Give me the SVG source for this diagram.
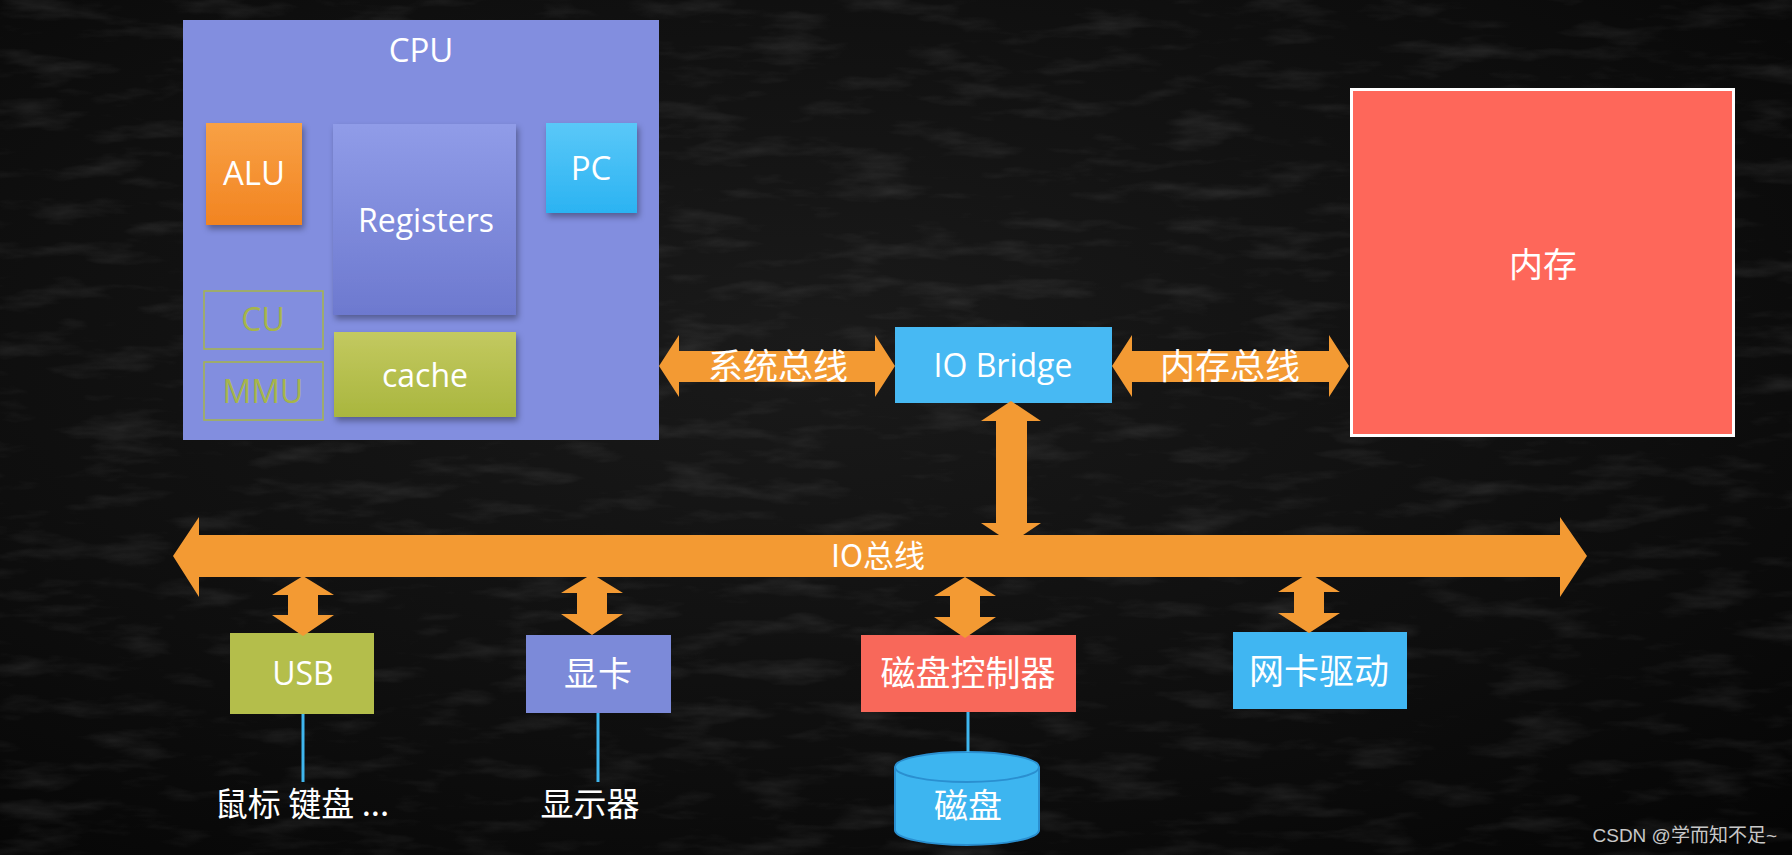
<svg xmlns="http://www.w3.org/2000/svg" width="1792" height="855" viewBox="0 0 1792 855">
  <defs>
    <style>
      .lat { font-family: "Open Sans", "Noto Sans", "Liberation Sans", sans-serif; fill: #ffffff; text-anchor: middle; }
      .cjk { font-family: "Noto Sans CJK SC", "Noto Sans", sans-serif; fill: #ffffff; text-anchor: middle; }
      .bus { fill: #f39a33; }
      .wire { stroke: #3fb6ee; stroke-width: 3; fill: none; }
      .ghost { fill: none; stroke: #a6b54a; stroke-width: 1.5; }
      .ghostt { font-family: "Open Sans", "Noto Sans", sans-serif; fill: #a6b54a; text-anchor: middle; font-size: 32px; }
    </style>
    <linearGradient id="gAlu" x1="0" y1="0" x2="0" y2="1">
      <stop offset="0" stop-color="#f8a145"/>
      <stop offset="1" stop-color="#f28421"/>
    </linearGradient>
    <linearGradient id="gReg" x1="0" y1="0" x2="0" y2="1">
      <stop offset="0" stop-color="#909ce8"/>
      <stop offset="1" stop-color="#6d79cf"/>
    </linearGradient>
    <linearGradient id="gPc" x1="0" y1="0" x2="0" y2="1">
      <stop offset="0" stop-color="#5ac8f8"/>
      <stop offset="1" stop-color="#2bb3f2"/>
    </linearGradient>
    <linearGradient id="gCache" x1="0" y1="0" x2="0" y2="1">
      <stop offset="0" stop-color="#c3c960"/>
      <stop offset="1" stop-color="#a9b63e"/>
    </linearGradient>
    <radialGradient id="gBg" cx="0.45" cy="0.4" r="0.8">
      <stop offset="0" stop-color="#1a1a1a"/>
      <stop offset="0.6" stop-color="#0e0e0e"/>
      <stop offset="1" stop-color="#050505"/>
    </radialGradient>
    <filter id="shadow" x="-20%" y="-20%" width="150%" height="150%">
      <feDropShadow dx="2" dy="4" stdDeviation="3" flood-color="#000" flood-opacity="0.35"/>
    </filter>
    <filter id="chalk" x="0" y="0" width="100%" height="100%">
      <feTurbulence type="fractalNoise" baseFrequency="0.012 0.05" numOctaves="4" seed="7" result="n"/>
      <feColorMatrix in="n" type="matrix" values="0 0 0 0 1  0 0 0 0 1  0 0 0 0 1  0 0 2.0 0 -1.0"/>
    </filter>
  </defs>

  <rect x="0" y="0" width="1792" height="855" fill="url(#gBg)"/>
  <rect x="0" y="0" width="1792" height="855" fill="#fff" filter="url(#chalk)" opacity="0.1"/>

  <g id="cpu">
    <rect x="183" y="20" width="476" height="420" fill="#828edf"/>
    <text class="lat" x="421" y="62" font-size="33">CPU</text>
  </g>
  <g id="alu">
    <rect x="206" y="123" width="96" height="102" fill="url(#gAlu)" filter="url(#shadow)"/>
    <text class="lat" x="254" y="185" font-size="33">ALU</text>
  </g>
  <g id="registers">
    <rect x="333" y="124" width="183" height="191" fill="url(#gReg)" filter="url(#shadow)"/>
    <text class="lat" x="426" y="232" font-size="32">Registers</text>
  </g>
  <g id="pc">
    <rect x="546" y="123" width="91" height="90" fill="url(#gPc)" filter="url(#shadow)"/>
    <text class="lat" x="591" y="180" font-size="33">PC</text>
  </g>
  <g id="cu">
    <rect class="ghost" x="204" y="291" width="119" height="58"/>
    <text class="ghostt" x="263" y="331">CU</text>
  </g>
  <g id="mmu">
    <rect class="ghost" x="204" y="362" width="119" height="58"/>
    <text class="ghostt" x="263" y="403">MMU</text>
  </g>
  <g id="cache">
    <rect x="334" y="332" width="182" height="85" fill="url(#gCache)" filter="url(#shadow)"/>
    <text class="lat" x="425" y="387" font-size="32">cache</text>
  </g>

  <g id="memory">
    <rect x="1351.5" y="89.5" width="382" height="346" fill="#fe675a" stroke="#ffffff" stroke-width="3"/>
    <text class="cjk" x="1543" y="277" font-size="34">内存</text>
  </g>

  <g id="io-bridge">
    <rect x="895" y="327" width="217" height="76" fill="#47b9f3"/>
    <text class="lat" x="1003" y="377" font-size="32">IO Bridge</text>
  </g>

  <g id="usb">
    <rect x="230" y="633" width="144" height="81" fill="#b4be4b"/>
    <text class="lat" x="303" y="685" font-size="32">USB</text>
  </g>
  <g id="gpu">
    <rect x="526" y="635" width="145" height="78" fill="#7c8ad9"/>
    <text class="cjk" x="598" y="686" font-size="34">显卡</text>
  </g>
  <g id="disk-controller">
    <rect x="861" y="635" width="215" height="77" fill="#f8685a"/>
    <text class="cjk" x="968" y="686" font-size="35">磁盘控制器</text>
  </g>
  <g id="nic">
    <rect x="1233" y="632" width="174" height="77" fill="#40b6f2"/>
    <text class="cjk" x="1319" y="684" font-size="35">网卡驱动</text>
  </g>
  <g id="peripherals">
    <text class="cjk" x="302" y="816" font-size="33">鼠标 键盘 ...</text>
  </g>
  <g id="monitor">
    <text class="cjk" x="590" y="816" font-size="33">显示器</text>
  </g>
  <g id="disk">
    <path d="M895,767 L895,830 A72,15 0 0 0 1039,830 L1039,767" fill="#3db5f0" stroke="#2a8fd0" stroke-width="2"/>
    <ellipse cx="967" cy="767" rx="72" ry="15" fill="#3db5f0" stroke="#2a8fd0" stroke-width="2"/>
    <text class="cjk" x="968" y="818" font-size="34">磁盘</text>
  </g>

  <g id="connectors">
    <polygon class="bus" points="659,366 679,335 679,351 875,351 875,335 895,366 875,397 875,382 679,382 679,397"/>
    <text class="cjk" x="778" y="379" font-size="35">系统总线</text>
    <polygon class="bus" points="1112,366 1132,335 1132,351 1329,351 1329,335 1349,366 1329,397 1329,382 1132,382 1132,397"/>
    <text class="cjk" x="1230" y="379" font-size="35">内存总线</text>

    <polygon class="bus" points="173,556 199,517 199,535 1560,535 1560,517 1587,556 1560,597 1560,577 199,577 199,597"/>
    <text class="cjk" x="878" y="567" font-size="31">IO总线</text>

    <polygon class="bus" points="1011,401 1041,421 1027,421 1027,523 1041,523 1011,543 981,523 996,523 996,421 981,421"/>

    <polygon class="bus" points="303,576 334,595 318,595 318,615 334,615 303,636 272,615 288,615 288,595 272,595"/>
    <polygon class="bus" points="592,574 623,593 607,593 607,614 623,614 592,635 561,614 577,614 577,593 561,593"/>
    <polygon class="bus" points="965,577 996,596 980,596 980,617 996,617 965,638 934,617 950,617 950,596 934,596"/>
    <polygon class="bus" points="1309,573 1340,592 1324,592 1324,613 1340,613 1309,633 1278,613 1294,613 1294,592 1278,592"/>

    <line class="wire" x1="303" y1="714" x2="303" y2="782"/>
    <line class="wire" x1="598" y1="713" x2="598" y2="782"/>
    <line class="wire" x1="968" y1="712" x2="968" y2="752"/>
  </g>

  <text x="1777" y="842" font-family="Liberation Sans, Noto Sans CJK SC, sans-serif" font-size="19" fill="#c8c8c8" text-anchor="end">CSDN @学而知不足~</text>
</svg>
